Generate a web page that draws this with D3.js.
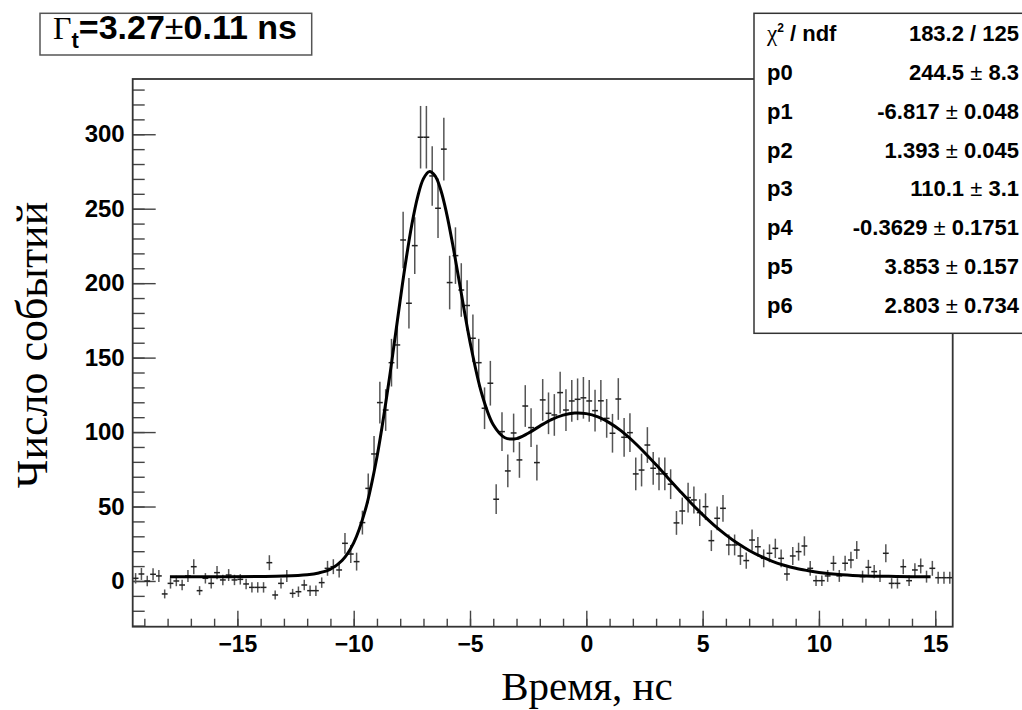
<!DOCTYPE html>
<html>
<head>
<meta charset="utf-8">
<script src="https://cdn.jsdelivr.net/npm/d3@7"></script>
<style>
    body { margin: 0; background: #fff; }
    svg { display: block; }
    text { font-family: "Liberation Sans", Arial, sans-serif; font-weight: bold; fill: #000; }
    .serif { font-family: "Liberation Serif", "Times New Roman", serif; font-weight: normal; }
</style>
</head>
<body>
<svg id="chart" width="1022" height="710"></svg>
<script>
// histogram: 141 bins of 0.25 ns starting at -19.5 ns
const binLow = -19.5;
const binWidth = 0.25;

const counts = [
    1.8, 4.7, 0, 4.5, 3.4, -8.7, -1.6, 0, -2.7, 3.4,
    9.6, -6.5, 1.8, -1.6, 5.6, 0.7, 4, 0.7, 1.1, -2,
    -4.3, -4.3, -4.3, 12.3, -9.4, -1.6, 3.4, -8.3, -7.2, -2.7,
    -6.5, -6.5, -1.1, 8.5, 9.6, 7.4, 25.3, 18.1, 13, 39.2,
    62.2, 85.3, 119.8, 114.8, 146.6, 158.5, 229, 186.5, 225.2, 298,
    298, 272, 250.3, 290, 200.4, 218.5, 195.4, 185, 163, 146.6,
    116, 132.8, 54.9, 100.3, 73.9, 99.4, 81.3, 117.5, 103, 79.5,
    121.6, 112.6, 111.5, 126.5, 114.8, 120.9, 122, 123, 120.9, 114.4,
    121, 109.2, 99.2, 122.2, 96.5, 99.6, 71.9, 74.5, 91.3, 75.7,
    71.9, 72, 65, 39, 47, 56, 54.4, 45.9, 49.9, 27.1,
    42.1, 48.8, 24.2, 24.2, 16.8, 13.7, 27.5, 23, 15.2, 18.6,
    21.9, 15.2, 4.7, 16.8, 19.7, 23.5, 8.5, 0.2, 0.2, 3.4,
    11.9, 3.4, 11.9, 14.1, 20.8, 2.9, 9.2, 6.3, 3.4, 18.6,
    -1.6, -1.6, 9.6, 0.2, 7.4, 10.1, 2.9, 8.5, 2.2, 2.2,
    2.2
];

const errors = [
    3.5, 4, 3.5, 4, 4, 3, 3.5, 3.5, 3.5, 4,
    5, 3, 3.5, 3.5, 4.5, 3.5, 4, 3.5, 3.5, 3.5,
    3.5, 3.5, 3.5, 5, 3, 3.5, 4, 3, 3.5, 3.5,
    3.5, 3.5, 3.5, 5, 5, 5, 7, 6, 6, 8,
    10, 12, 14, 14, 16, 16, 19, 17, 19, 21,
    21, 20, 20, 21, 18, 19, 18, 17, 16, 16,
    14, 15, 10, 13, 11, 13, 12, 14, 13, 12,
    14, 14, 14, 14, 14, 14, 14, 14, 14, 14,
    14, 13, 13, 14, 13, 13, 11, 11, 12, 11,
    11, 11, 10, 8, 9, 10, 9, 9, 9, 7,
    8, 9, 7, 7, 6, 5.5, 7, 6.5, 6, 6,
    6.5, 6, 4.5, 6, 6, 6.5, 5, 3.5, 3.5, 4,
    5, 4, 5, 5.5, 6, 4, 5, 4.5, 4, 6,
    3.5, 3.5, 5, 3.5, 4.5, 5, 4, 5, 4, 4,
    4
];

// fit curve
const fitX = [
    -17.9, -16, -14, -13, -12, -11.5, -11, -10.5, -10, -9.5,
    -9, -8.5, -8.25, -8, -7.75, -7.5, -7.25, -7, -6.75, -6.5,
    -6.25, -6, -5.75, -5.5, -5, -4.5, -4, -3.5, -3, -2.5,
    -2, -1.5, -1, -0.5, 0, 0.5, 1, 1.5, 2, 2.5,
    3, 3.5, 4, 4.5, 5, 5.5, 6, 6.5, 7, 7.5,
    8, 8.5, 9, 9.5, 10, 11, 12, 13, 14, 14.8
];
const fitY = [
    2.8, 2.8, 3, 3.3, 4.2, 5.4, 7.9, 13.7, 25.6, 47.7,
    83.3, 132.4, 160.3, 188.7, 215.7, 239.4, 258, 270.2, 274.9, 272,
    262.2, 246.4, 226.5, 204.5, 160.6, 126, 104.9, 96.2, 95.6, 99.2,
    104, 108.4, 111.4, 112.8, 112.4, 110.2, 106.2, 100.8, 94, 86.3,
    78, 69.4, 60.8, 52.4, 44.6, 37.4, 31, 25.3, 20.5, 16.5,
    13.2, 10.6, 8.5, 7, 5.75, 4.2, 3.4, 3.1, 2.9, 2.85
];

const xMajor = [-15, -10, -5, 0, 5, 10, 15];
const xMinor = d3.range(-19, 16, 1);
const yMajor = [0, 50, 100, 150, 200, 250, 300];
const yMinor = d3.range(-30, 340, 10);

const statLabels = ['p0', 'p1', 'p2', 'p3', 'p4', 'p5', 'p6'];
const statValues = ['244.5', '-6.817', '1.393', '110.1', '-0.3629', '3.853', '2.803'];
const statErrors = ['8.3', '0.048', '0.045', '3.1', '0.1751', '0.157', '0.734'];
const chiText = '183.2 / 125';

const frame = { left: 132.7, top: 79, right: 952.7, bottom: 626.7 };

const svg = d3.select('#chart');
svg.append('rect').attr('width', 1022).attr('height', 710).attr('fill', '#fff');

const x = d3.scaleLinear().domain([-19.5, 15.75]).range([frame.left, frame.right]);
const y = d3.scaleLinear().domain([-30.7, 337.1]).range([frame.bottom, frame.top]);

// axes (ticks point into the frame, like ROOT)
const drawAxis = (axis, cls, transform) => {
    const g = svg.append('g').attr('class', cls).attr('transform', transform).call(axis);
    g.select('.domain').remove();
    g.selectAll('line').attr('stroke', '#444').attr('stroke-width', 1.4);
    return g;
};

drawAxis(d3.axisBottom(x).tickValues(xMinor).tickSize(-8).tickFormat(''),
    'x-minor', `translate(0,${frame.bottom})`);
drawAxis(d3.axisBottom(x).tickValues(xMajor).tickSize(-16).tickPadding(9).tickFormat(d3.format('d')),
    'x-major', `translate(0,${frame.bottom})`)
    .selectAll('text').style('font-size', '23px').attr('fill', '#000');

drawAxis(d3.axisLeft(y).tickValues(yMinor).tickSize(-12).tickFormat(''),
    'y-minor', `translate(${frame.left},0)`);
drawAxis(d3.axisLeft(y).tickValues(yMajor).tickSize(-23).tickPadding(8).tickFormat(d3.format('d')),
    'y-major', `translate(${frame.left},0)`)
    .selectAll('text').style('font-size', '24px').attr('fill', '#000');

// data points with error bars
const pts = counts.map((c, i) => ({ x: binLow + (i + 0.5) * binWidth, y: c, e: errors[i] }));

const marks = svg.append('g').attr('class', 'points');
marks.selectAll('.ey').data(pts).enter().append('line')
    .attr('class', 'ey')
    .attr('x1', (d) => x(d.x)).attr('x2', (d) => x(d.x))
    .attr('y1', (d) => y(d.y - d.e)).attr('y2', (d) => y(d.y + d.e))
    .attr('stroke', '#555').attr('stroke-width', 1.5);
marks.selectAll('.ex').data(pts).enter().append('line')
    .attr('class', 'ex')
    .attr('x1', (d) => x(d.x - binWidth / 2)).attr('x2', (d) => x(d.x + binWidth / 2))
    .attr('y1', (d) => y(d.y)).attr('y2', (d) => y(d.y))
    .attr('stroke', '#222').attr('stroke-width', 1.5);

// fit
const fitLine = d3.line().x((d) => x(d[0])).y((d) => y(d[1])).curve(d3.curveCatmullRom);
svg.append('path')
    .datum(fitX.map((v, i) => [v, fitY[i]]))
    .attr('d', fitLine)
    .attr('fill', 'none').attr('stroke', '#000').attr('stroke-width', 3);

// frame
svg.append('rect')
    .attr('x', frame.left).attr('y', frame.top)
    .attr('width', frame.right - frame.left).attr('height', frame.bottom - frame.top)
    .attr('fill', 'none').attr('stroke', '#333').attr('stroke-width', 1.8);

// axis titles
svg.append('text').attr('class', 'serif')
    .attr('x', 587).attr('y', 700).attr('text-anchor', 'middle')
    .style('font-size', '41px').text('Время, нс');
svg.append('text').attr('class', 'serif')
    .attr('transform', 'translate(47,345) rotate(-90)').attr('text-anchor', 'middle')
    .style('font-size', '44px').text('Число событий');

// title box
svg.append('rect').attr('x', 40).attr('y', 13.3).attr('width', 271.7).attr('height', 41.7)
    .attr('fill', '#fff').attr('stroke', '#555').attr('stroke-width', 1.5);
const title = svg.append('text').attr('x', 53).attr('y', 38.5).style('font-size', '34px');
title.append('tspan').attr('class', 'serif').style('font-size', '32px').text('Γ');
title.append('tspan').attr('dy', 9).style('font-size', '22px').text('t');
title.append('tspan').attr('dy', -9).text('=3.27');
title.append('tspan').style('font-weight', 'normal').text('±');
title.append('tspan').text('0.11 ns');

// stats box
const stats = svg.append('g').attr('class', 'stats');
stats.append('rect').attr('x', 754).attr('y', 13.3).attr('width', 290).attr('height', 320)
    .attr('fill', '#fff').attr('stroke', '#333').attr('stroke-width', 1.5);
const rowY = (i) => 33.3 + i * 38.8;
const labelX = 767;
const valueX = 1019;
const statSize = '22px';

const chi = stats.append('text').attr('x', labelX).attr('y', rowY(0)).attr('dy', '0.36em')
    .style('font-size', statSize);
chi.append('tspan').attr('class', 'serif').style('font-size', '23px').text('χ');
chi.append('tspan').attr('dy', -9).style('font-size', '12px').text('2');
chi.append('tspan').attr('dy', 9).text(' / ndf');
stats.append('text').attr('x', valueX).attr('y', rowY(0)).attr('dy', '0.36em')
    .attr('text-anchor', 'end').style('font-size', statSize).text(chiText);

statLabels.forEach((lab, i) => {
    stats.append('text').attr('x', labelX).attr('y', rowY(i + 1)).attr('dy', '0.36em')
        .style('font-size', statSize).text(lab);
    const v = stats.append('text').attr('x', valueX).attr('y', rowY(i + 1)).attr('dy', '0.36em')
        .attr('text-anchor', 'end').style('font-size', statSize);
    v.append('tspan').text(statValues[i] + ' ');
    v.append('tspan').style('font-weight', 'normal').text('±');
    v.append('tspan').text(' ' + statErrors[i]);
});
</script>
</body>
</html>
